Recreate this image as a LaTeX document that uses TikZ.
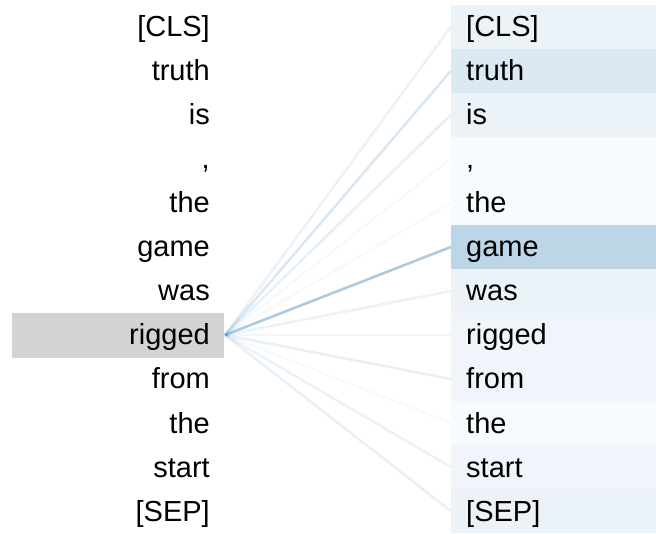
\documentclass[tikz,border=0pt]{standalone}
\usepackage{fontspec}
\setmainfont{Liberation Sans}
\definecolor{tb}{HTML}{1F77B4}
\definecolor{hlgray}{HTML}{D3D3D3}
\begin{document}
\begin{tikzpicture}[x=1pt,y=-1pt,
  tok/.style={font=\fontsize{29}{31}\selectfont, text=black, inner sep=0pt},
  ltok/.style={tok, anchor=base east},
  rtok/.style={tok, anchor=base west},
  cell/.style={draw=none, inner sep=0pt, minimum width=205pt, minimum height=44pt},
  att/.style={draw=tb, line width=2.6pt, draw opacity=#1}]
\useasboundingbox (0,0) rectangle (656,534);
% highlighted source
\node[draw=none, fill=hlgray, inner sep=0pt, minimum width=212pt, minimum height=45pt] (hl) at (118,335.5) {};
\coordinate (src) at (225,335);
% right cells
\node[cell, fill=tb!9]  (R0)  at (553.5,27)  {};
\node[cell, fill=tb!16] (R1)  at (553.5,71)  {};
\node[cell, fill=tb!9]  (R2)  at (553.5,115) {};
\node[cell, fill=tb!3]  (R3)  at (553.5,159) {};
\node[cell, fill=tb!3]  (R4)  at (553.5,203) {};
\node[cell, fill=tb!30] (R5)  at (553.5,247) {};
\node[cell, fill=tb!9]  (R6)  at (553.5,291) {};
\node[cell, fill=tb!7]  (R7)  at (553.5,335) {};
\node[cell, fill=tb!7]  (R8)  at (553.5,379) {};
\node[cell, fill=tb!3]  (R9)  at (553.5,423) {};
\node[cell, fill=tb!7]  (R10) at (553.5,467) {};
\node[cell, fill=tb!9]  (R11) at (553.5,511) {};
% attention lines
\draw[att=0.09] (src) -- (R0.west);
\draw[att=0.17] (src) -- (R1.west);
\draw[att=0.10] (src) -- (R2.west);
\draw[att=0.04] (src) -- (R3.west);
\draw[att=0.04] (src) -- (R4.west);
\draw[att=0.38] (src) -- (R5.west);
\draw[att=0.09] (src) -- (R6.west);
\draw[att=0.06] (src) -- (R7.west);
\draw[att=0.10] (src) -- (R8.west);
\draw[att=0.04] (src) -- (R9.west);
\draw[att=0.09] (src) -- (R10.west);
\draw[att=0.10] (src) -- (R11.west);
% left tokens
\node[ltok] (L0)  at (210,37)  {[CLS]};
\node[ltok] (L1)  at (210,81)  {truth};
\node[ltok] (L2)  at (210,125) {is};
\node[ltok] (L3)  at (210,169) {,};
\node[ltok] (L4)  at (210,213) {the};
\node[ltok] (L5)  at (210,257) {game};
\node[ltok] (L6)  at (210,301) {was};
\node[ltok] (L7)  at (210,345) {rigged};
\node[ltok] (L8)  at (210,389) {from};
\node[ltok] (L9)  at (210,433) {the};
\node[ltok] (L10) at (210,477) {start};
\node[ltok] (L11) at (210,521) {[SEP]};
% right tokens
\node[rtok] (T0)  at (466,37)  {[CLS]};
\node[rtok] (T1)  at (466,81)  {truth};
\node[rtok] (T2)  at (466,125) {is};
\node[rtok] (T3)  at (466,169) {,};
\node[rtok] (T4)  at (466,213) {the};
\node[rtok] (T5)  at (466,257) {game};
\node[rtok] (T6)  at (466,301) {was};
\node[rtok] (T7)  at (466,345) {rigged};
\node[rtok] (T8)  at (466,389) {from};
\node[rtok] (T9)  at (466,433) {the};
\node[rtok] (T10) at (466,477) {start};
\node[rtok] (T11) at (466,521) {[SEP]};
\end{tikzpicture}
\end{document}
